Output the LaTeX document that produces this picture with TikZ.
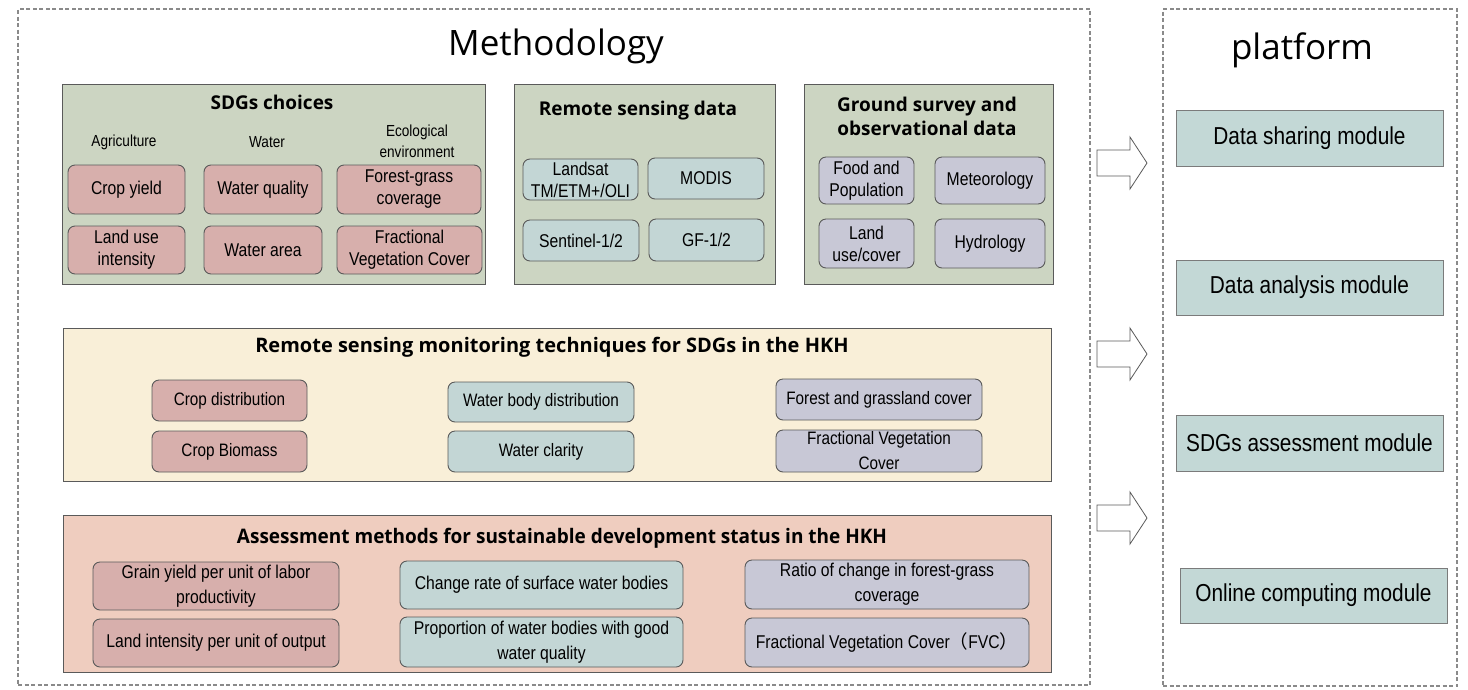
\documentclass[tikz,border=0pt]{standalone}
\usepackage{fontspec}
\usetikzlibrary{calc}
\setmainfont{Liberation Sans}
\newfontfamily\bodyf[FakeStretch=0.85]{Liberation Sans}
\newfontfamily\headf{Open Sans}
\newfontfamily\headn[FakeStretch=0.95]{Open Sans}
\newfontfamily\cjk{Noto Sans CJK SC}
\definecolor{panelg}{HTML}{CCD5C2}
\definecolor{pinkb}{HTML}{D7AFAC}
\definecolor{blueb}{HTML}{C3D6D5}
\definecolor{lavb}{HTML}{C8C8D6}
\definecolor{creamp}{HTML}{F9EFD8}
\definecolor{salmonp}{HTML}{EFCDBF}
\definecolor{modb}{HTML}{C3D8D6}
\definecolor{boxline}{HTML}{5A5A5A}
\definecolor{dashc}{HTML}{8A8A8A}
\newcommand\mkbox[7]{\node[#1, minimum width={#5-#3}, minimum height={#6-#4}] (#2) at ({(#3+#5)/2},{(#4+#6)/2}) {#7};}
\tikzset{
  outerbox/.style={draw=dashc, line width=1.4pt, dash pattern=on 4pt off 2.5pt, inner sep=0pt},
  panel/.style={draw=boxline, line width=0.9pt, inner sep=0pt},
  bx/.style={draw=boxline, line width=0.9pt, rounded corners=7pt, align=center, inner sep=0pt, font=\bodyf\fontsize{18.5}{22}\selectfont},
  bxm/.style={bx, font=\bodyf\fontsize{18}{25}\selectfont},
  bxb/.style={bx, font=\bodyf\fontsize{18.5}{25}\selectfont},
  modbox/.style={draw=boxline!80, line width=0.9pt, fill=modb, inner sep=0pt, font=\bodyf\fontsize{24.5}{28}\selectfont},
  bigtitle/.style={font=\headf\fontsize{35}{40}\selectfont, inner sep=0pt, anchor=base},
  ptitle/.style={font=\headf\bfseries\fontsize{19}{24}\selectfont, inner sep=0pt, align=center},
  wtitle/.style={font=\headf\bfseries\fontsize{20}{24}\selectfont, inner sep=0pt},
  wtitlen/.style={font=\headn\bfseries\fontsize{20}{24}\selectfont, inner sep=0pt},
  cat/.style={font=\bodyf\fontsize{16}{21}\selectfont, inner sep=0pt, align=center},
  barrow/.style={draw=boxline, line width=0.8pt, fill=white, line join=miter},
}
\begin{document}
\begin{tikzpicture}[x=1pt,y=-1pt]
\useasboundingbox (0,0) rectangle (1468,689);
% outer boxes
\mkbox{outerbox}{meth}{18}{9}{1090}{685}{}
\mkbox{outerbox}{plat}{1163}{9}{1457}{686}{}
\node[bigtitle] (methT) at (556,55) {Methodology};
\node[bigtitle] (platT) at (1302,59) {platform};
% SDGs choices panel
\mkbox{panel,fill=panelg}{sdg}{62}{84}{485}{284}{}
\node[ptitle] (sdgT) at (272,102) {SDGs choices};
\node[cat] (agri) at (124,142) {Agriculture};
\node[cat] (watr) at (267,142) {Water};
\node[cat] (ecol) at (417,141) {Ecological\\environment};
\mkbox{bx,fill=pinkb}{cy}{68}{165}{185}{214}{Crop yield}
\mkbox{bx,fill=pinkb}{wq}{204}{165}{322}{214}{Water quality}
\mkbox{bx,fill=pinkb}{fg}{337}{165}{481}{214}{Forest-grass\\coverage}
\mkbox{bx,fill=pinkb}{lu}{68}{226}{185}{274}{Land use\\intensity}
\mkbox{bx,fill=pinkb}{wa}{204}{226}{322}{274}{Water area}
\mkbox{bx,fill=pinkb}{fv}{337}{226}{482}{274}{Fractional\\Vegetation Cover}
% Remote sensing data panel
\mkbox{panel,fill=panelg}{rsd}{514}{84}{775}{284}{}
\node[ptitle] (rsdT) at (638,111) {Remote sensing data};
\mkbox{bx,fill=blueb}{ls}{523}{159}{638}{200}{Landsat\\TM/ETM+/OLI}
\mkbox{bx,fill=blueb}{mo}{648}{158}{764}{199}{MODIS}
\mkbox{bx,fill=blueb}{se}{523}{220}{639}{261}{Sentinel-1/2}
\mkbox{bx,fill=blueb}{gf}{649}{219}{764}{261}{GF-1/2}
% Ground survey panel
\mkbox{panel,fill=panelg}{gsd}{804}{84}{1053}{284}{}
\node[ptitle] (gsdT) at (927,116) {Ground survey and\\observational data};
\mkbox{bx,fill=lavb}{fp}{819}{157}{914}{204}{Food and\\Population}
\mkbox{bx,fill=lavb}{me}{935}{157}{1045}{204}{Meteorology}
\mkbox{bx,fill=lavb}{lc}{819}{219}{914}{268}{Land\\use/cover}
\mkbox{bx,fill=lavb}{hy}{935}{219}{1045}{268}{Hydrology}
% Remote sensing monitoring panel
\mkbox{panel,fill=creamp}{rsm}{63}{328}{1051}{481}{}
\node[wtitle] (rsmT) at (552,347) {Remote sensing monitoring techniques for SDGs in the HKH};
\mkbox{bxm,fill=pinkb}{cd}{152}{380}{307}{421}{Crop distribution}
\mkbox{bxm,fill=pinkb}{cb}{152}{431}{307}{472}{Crop Biomass}
\mkbox{bxm,fill=blueb}{wb}{448}{382}{634}{422}{Water body distribution}
\mkbox{bxm,fill=blueb}{wc}{448}{431}{634}{472}{Water clarity}
\mkbox{bxm,fill=lavb}{fgc}{776}{379}{982}{420}{Forest and grassland cover}
\mkbox{bxm,fill=lavb}{fvm}{776}{430}{982}{472}{Fractional Vegetation\\Cover}
% Assessment methods panel
\mkbox{panel,fill=salmonp}{asm}{63}{515}{1051}{672}{}
\node[wtitlen] (asmT) at (562,538) {Assessment methods for sustainable development status in the HKH};
\mkbox{bxb,fill=pinkb}{gy}{93}{562}{339}{610}{Grain yield per unit of labor\\productivity}
\mkbox{bxb,fill=pinkb}{li}{93}{619}{339}{667}{Land intensity per unit of output}
\mkbox{bxb,fill=blueb}{cr}{400}{561}{683}{609}{Change rate of surface water bodies}
\mkbox{bxb,fill=blueb}{pw}{400}{617}{683}{667}{Proportion of water bodies with good\\water quality}
\mkbox{bxb,fill=lavb}{rc}{745}{560}{1029}{609}{Ratio of change in forest-grass\\coverage}
\mkbox{bxb,fill=lavb}{fva}{745}{618}{1029}{667}{Fractional Vegetation Cover{\cjk （}FVC{\cjk ）}}
% platform modules
\mkbox{modbox}{ds}{1176}{110}{1443}{166}{Data sharing module}
\mkbox{modbox}{da}{1176}{260}{1443}{315}{Data analysis module}
\mkbox{modbox}{sa}{1176}{415}{1443}{471}{SDGs assessment module}
\mkbox{modbox}{oc}{1180}{568}{1447}{623}{Online computing module}
% block arrows
\foreach \yc/\nm in {163/a1,354/a2,518/a3}{
  \coordinate (\nm) at (1097,\yc);
  \draw[barrow] ($(\nm)+(0,-13)$) -- ++(33,0) -- ++(0,-13) -- ($(\nm)+(50,0)$) -- ($(\nm)+(33,26)$) -- ++(0,-13) -- ($(\nm)+(0,13)$) -- cycle;
}
\end{tikzpicture}
\end{document}
